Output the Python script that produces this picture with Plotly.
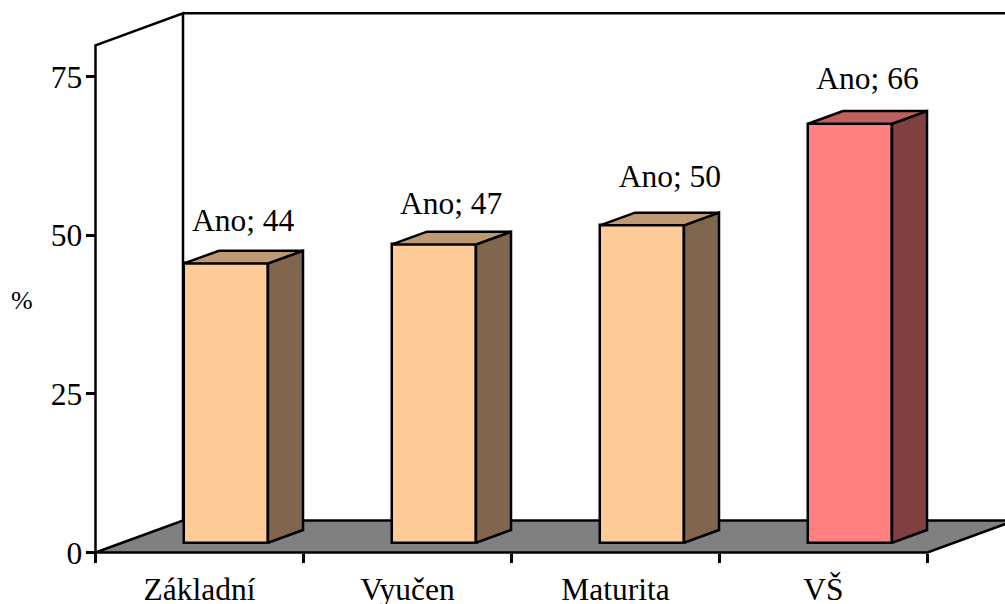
import plotly.graph_objects as go

categories = ["Základní", "Vyučen", "Maturita", "VŠ"]
values = [44, 47, 50, 66]
series_name = "Ano"
y_ticks = [0, 25, 50, 75]
front_colors = ["#FFCC99", "#FFCC99", "#FFCC99", "#FF8080"]
side_colors = ["#80664D", "#80664D", "#80664D", "#804040"]
top_colors = ["#BF9973", "#BF9973", "#BF9973", "#BF6060"]
label_nudge_x = [-0.002, -0.002, 0.05, 0.0]
label_gap = [6.35, 6.05, 7.25, 6.65]

W, H = 1005, 604
X_PX, Y_PX = 208.0, 6.347          # pixels per category, pixels per percent
ML, MB = 90, 46                    # left / bottom margins
OX, OY = 95.5, 552.5               # origin pixel
FONT = dict(family="Liberation Serif", size=31.5, color="black")

xmin = -(OX - ML) / X_PX
xmax = xmin + (W - ML) / X_PX
ymin = -((H - MB) - OY) / Y_PX
ymax = ymin + (H - MB) / Y_PX

WALL_DX, WALL_DY = 87.5 / X_PX, 32.0 / Y_PX
BAR_LEFT, BAR_W = 88.5 / X_PX, 84.0 / X_PX
BAR_BASE = 9.8 / Y_PX
SIDE_DX, SIDE_DY = 35.0 / X_PX, 12.7 / Y_PX
TOP_WALL = 79.9
n = len(categories)


def path(points):
    return "M " + " L ".join(f"{x},{y}" for x, y in points) + " Z"


def openpath(points):
    return "M " + " L ".join(f"{x},{y}" for x, y in points)


line = dict(color="black", width=2.5)
shapes = [
    dict(type="path", layer="below", xref="x", yref="y", fillcolor="#808080", line=line,
         path=path([(0, 0), (n, 0), (n + WALL_DX, WALL_DY), (WALL_DX, WALL_DY)])),
    dict(type="path", layer="below", xref="x", yref="y", line=line,
         path=openpath([(0, 0), (0, TOP_WALL), (WALL_DX, TOP_WALL + WALL_DY), (WALL_DX, WALL_DY)])),
    dict(type="path", layer="below", xref="x", yref="y", line=line,
         path=openpath([(WALL_DX, TOP_WALL + WALL_DY), (xmax + 1, TOP_WALL + WALL_DY)])),
]

fig = go.Figure()
lefts = [i + BAR_LEFT for i in range(n)]

fig.add_trace(go.Bar(
    x=[l + BAR_W / 2 for l in lefts], y=values, base=BAR_BASE, width=BAR_W,
    marker=dict(color=front_colors, line=dict(color="black", width=2.5)),
    hoverinfo="skip", showlegend=False,
))

for l, v, sc, tc in zip(lefts, values, side_colors, top_colors):
    r = l + BAR_W
    top = BAR_BASE + v
    fig.add_trace(go.Scatter(
        x=[r, r + SIDE_DX, r + SIDE_DX, r, r],
        y=[BAR_BASE, BAR_BASE + SIDE_DY, top + SIDE_DY, top, BAR_BASE],
        mode="lines", fill="toself", fillcolor=sc, line=line,
        hoverinfo="skip", showlegend=False,
    ))
    fig.add_trace(go.Scatter(
        x=[l, l + SIDE_DX, r + SIDE_DX, r, l],
        y=[top, top + SIDE_DY, top + SIDE_DY, top, top],
        mode="lines", fill="toself", fillcolor=tc, line=line,
        hoverinfo="skip", showlegend=False,
    ))

fig.add_trace(go.Scatter(
    x=[l + (BAR_W + SIDE_DX) / 2 + nx for l, nx in zip(lefts, label_nudge_x)],
    y=[BAR_BASE + v + g for v, g in zip(values, label_gap)],
    mode="text", text=[f"{series_name}; {v}" for v in values],
    textfont=FONT, textposition="middle center", cliponaxis=False,
    hoverinfo="skip", showlegend=False,
))

fig.update_layout(
    width=W, height=H, autosize=False,
    margin=dict(l=ML, r=0, t=0, b=MB, pad=0),
    paper_bgcolor="white", plot_bgcolor="white",
    bargap=0, showlegend=False, shapes=shapes,
    xaxis=dict(
        range=[xmin, xmax], showgrid=False, zeroline=False, showline=False, automargin=False,
        anchor="free", position=((H - MB) - OY) / (H - MB),
        tickmode="array", tickvals=[i + 0.5 for i in range(n)], ticktext=categories,
        ticks="outside", ticklen=9, tickcolor="rgba(0,0,0,0)", tickfont=FONT,
        minor=dict(tickmode="array", tickvals=list(range(n + 1)), ticks="outside",
                   ticklen=9, tickwidth=2.5, tickcolor="black", showgrid=False),
    ),
    yaxis=dict(
        range=[ymin, ymax], showgrid=False, zeroline=False, showline=False, automargin=False,
        anchor="free", position=(OX - ML) / (W - ML),
        tickmode="array", tickvals=y_ticks, ticks="outside", ticklen=10, tickwidth=2.5,
        tickcolor="black", tickfont=FONT, ticklabelstandoff=-3,
    ),
    annotations=[dict(text="%", xref="paper", yref="paper", x=-0.074, y=0.462,
                      showarrow=False, xanchor="center", yanchor="middle",
                      font=dict(family="Liberation Serif", size=26, color="black"))],
)

fig.write_html("out.html", config=dict(displayModeBar=False),
               post_script="document.body.style.margin='0';document.documentElement.style.overflow='hidden';")
